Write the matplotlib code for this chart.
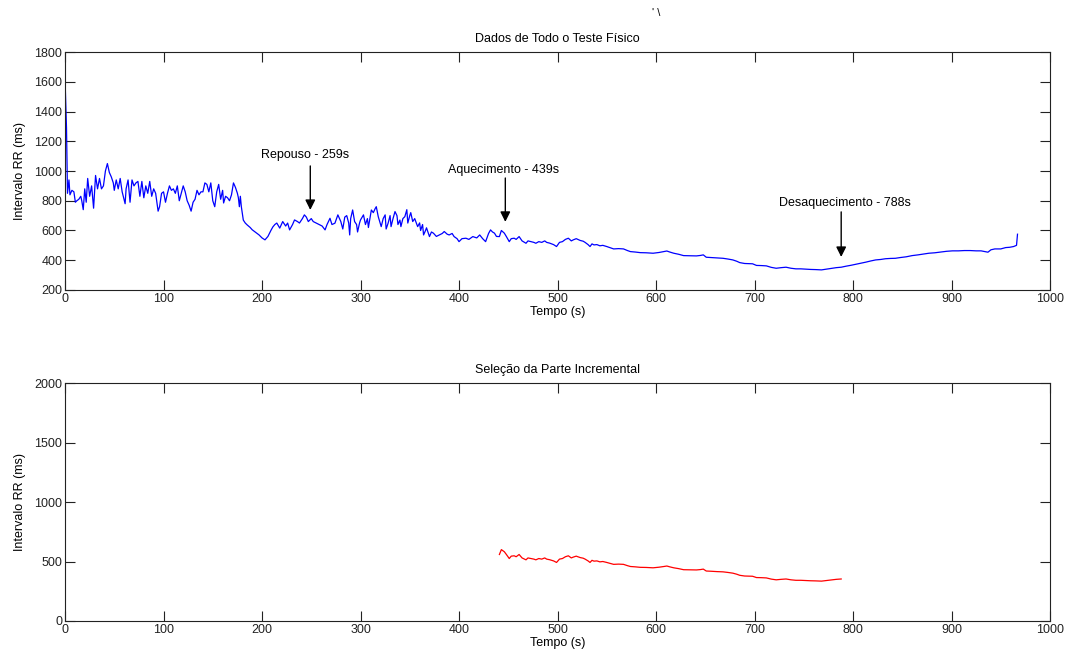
import numpy as np
from matplotlib import pyplot as plt

plt.rcParams['font.family'] = ['Liberation Sans', 'DejaVu Sans']
plt.rcParams['font.size'] = 9

# RR interval over the whole test (time in s, interval in ms)
tempo = [0, 1.5, 2.5, 4, 5, 7, 9, 10.5, 12, 14, 16, 17, 18.5, 20, 21.5, 23, 25, 27, 29, 31,
         33, 35, 37, 39, 41, 43, 45, 47, 49, 50, 52, 54, 56, 58, 61, 62, 64, 66, 68, 70,
         72, 74, 76, 78, 80, 82, 84, 86, 88, 90, 92, 94.5, 96, 98, 100, 102, 104, 106, 108, 110,
         112, 114, 116, 118, 120, 122, 124, 126, 128, 130, 132, 134, 136, 138, 140, 142, 144, 146, 148, 150,
         152, 154, 156, 158, 160, 161, 163, 165, 167, 169, 171, 173, 175, 176, 177, 178, 179, 181, 183, 185,
         188, 190, 193, 197, 200, 203, 206, 209, 211, 213, 215, 218, 221, 224, 226, 228, 231, 233, 236, 238,
         241, 243, 245, 247, 250, 252, 255, 258, 261, 264, 266, 269, 271, 274, 277, 280, 282, 284, 286, 288,
         289, 290, 292, 294, 296, 297, 299, 300, 303, 305, 307, 308, 310, 311, 313, 315, 316, 318, 320, 321,
         323, 325, 326, 328, 330, 331, 333, 335, 337, 338, 340, 341, 343, 345, 347, 348, 350, 351, 353, 355,
         358, 360, 361, 363, 364, 366, 367, 370, 372, 374, 377, 380, 383, 385, 388, 390, 393, 395, 398, 400,
         403, 407, 410, 414, 418, 421, 424, 427, 430, 432, 434, 436, 438, 441, 443, 446, 448, 451, 453, 456,
         458, 461, 464, 468, 470, 473, 476, 478, 481, 484, 487, 489, 492, 496, 499, 502, 505, 508, 511, 514,
         516, 519, 523, 526, 528, 531, 533, 535, 537, 540, 543, 546, 550, 553, 557, 562, 567, 571, 574, 579,
         584, 590, 597, 603, 608, 611, 614, 618, 623, 628, 635, 641, 645, 648, 651, 656, 662, 668, 673, 678,
         682, 685, 690, 694, 698, 702, 707, 712, 717, 722, 727, 732, 737, 742, 747, 752, 757, 762, 768, 773,
         778, 783, 788, 793, 798, 803, 808, 813, 818, 823, 828, 833, 838, 843, 848, 854, 860, 866, 871, 877,
         883, 889, 895, 901, 907, 913, 919, 925, 930, 934, 937, 940, 944, 950, 955, 959, 963, 966, 967]
rr = [1620, 1290, 850, 940, 840, 870, 860, 790, 800, 810, 830, 800, 740, 880, 790, 950, 830, 900, 750, 970,
      880, 950, 880, 900, 1000, 1050, 990, 960, 920, 870, 940, 880, 950, 860, 780, 880, 940, 790, 940, 900,
      920, 930, 830, 930, 820, 900, 850, 930, 830, 880, 850, 730, 760, 850, 860, 790, 850, 900, 870, 880,
      850, 900, 800, 850, 900, 860, 800, 770, 730, 790, 810, 870, 840, 860, 860, 920, 910, 860, 920, 800,
      760, 860, 910, 810, 870, 785, 830, 820, 800, 840, 920, 890, 850, 820, 760, 830, 760, 670, 650, 637,
      620, 605, 590, 570, 550, 537, 560, 600, 624, 640, 650, 616, 660, 630, 650, 604, 640, 671, 660, 650,
      680, 705, 690, 660, 680, 660, 650, 640, 630, 604, 640, 682, 640, 649, 705, 660, 610, 690, 700, 650,
      570, 680, 738, 660, 640, 590, 650, 671, 705, 640, 680, 620, 700, 738, 720, 749, 760, 693, 650, 626,
      680, 705, 610, 649, 700, 626, 680, 727, 700, 640, 670, 626, 680, 693, 740, 650, 700, 720, 660, 680,
      626, 651, 600, 640, 570, 600, 618, 559, 590, 582, 560, 570, 580, 593, 575, 570, 580, 559, 545, 525,
      545, 548, 540, 559, 550, 570, 545, 525, 580, 604, 590, 582, 560, 559, 600, 582, 560, 525, 545, 548,
      540, 559, 530, 514, 530, 525, 520, 514, 525, 520, 530, 520, 515, 505, 492, 520, 525, 540, 548, 530,
      537, 545, 533, 528, 520, 505, 492, 510, 503, 505, 497, 500, 492, 485, 476, 478, 476, 465, 458, 455,
      451, 450, 447, 452, 458, 462, 455, 447, 440, 431, 430, 429, 432, 436, 420, 418, 415, 413, 408, 402,
      393, 384, 378, 377, 376, 365, 364, 362, 352, 346, 350, 353, 346, 342, 342, 340, 338, 337, 335, 340,
      345, 350, 353, 360, 366, 373, 380, 387, 395, 402, 405, 410, 412, 413, 418, 423, 431, 436, 441, 447,
      450, 455, 460, 463, 463, 465, 465, 463, 463, 458, 454, 470, 476, 476, 485, 487, 492, 500, 575]

# incremental part of the test
inicio_inc = 439
fim_inc = 788

# annotations: label, label x, label y, arrow x, arrow top, arrow tip
marcos = ['Repouso - 259s', 'Aquecimento - 439s', 'Desaquecimento - 788s']
marco_tx = [244, 445, 792]
marco_ty = [1108, 1007, 785]
marco_x = [249, 447, 788]
marco_top = [1034, 953, 725]
marco_tip = [738, 658, 422]

t = np.array(tempo)
v = np.array(rr)
sel = (t >= inicio_inc) & (t <= fim_inc)

fig = plt.figure(figsize=(10.66, 6.59), dpi=100)
ax1 = fig.add_axes([0.061, 0.560, 0.924, 0.361])
ax2 = fig.add_axes([0.061, 0.0577, 0.924, 0.361])

ax1.plot(t, v, color='#0000ff', lw=0.9)
ax2.plot(t[sel], v[sel], color='#ff0000', lw=0.9)

for txt, tx, ty, x, top, tip in zip(marcos, marco_tx, marco_ty, marco_x, marco_top, marco_tip):
    ax1.text(tx, ty, txt, ha='center', va='center', fontsize=9)
    ax1.annotate('', xy=(x, tip), xytext=(x, top),
                 arrowprops=dict(arrowstyle='-|>', color='k', lw=1.0,
                                 mutation_scale=15, shrinkA=0, shrinkB=0))

ax1.set_xlim(0, 1000)
ax1.set_ylim(200, 1800)
ax1.set_xticks(np.arange(0, 1001, 100))
ax1.set_yticks(np.arange(200, 1801, 200))
ax1.set_title('Dados de Todo o Teste Físico', fontsize=9, pad=7)

ax2.set_xlim(0, 1000)
ax2.set_ylim(0, 2000)
ax2.set_xticks(np.arange(0, 1001, 100))
ax2.set_yticks(np.arange(0, 2001, 500))
ax2.set_title('Seleção da Parte Incremental', fontsize=9, pad=7)

for ax in (ax1, ax2):
    ax.set_xlabel('Tempo (s)', labelpad=1)
    ax.set_ylabel('Intervalo RR (ms)', labelpad=6)
    ax.tick_params(direction='in', length=7, width=0.8, top=True, right=True,
                   labelsize=9, colors='#222222', pad=2)
    for s in ax.spines.values():
        s.set_linewidth(0.8)
        s.set_color('#222222')

fig.text(0.612, 0.975, "' \\", fontsize=8)

fig.savefig('out.png', dpi=100)
